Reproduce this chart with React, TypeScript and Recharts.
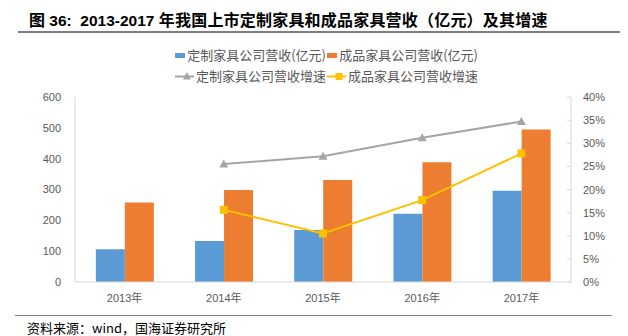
import React from 'react';
import { ComposedChart, Bar, Line, XAxis, YAxis } from 'recharts';

const years = ['2013年', '2014年', '2015年', '2016年', '2017年'];
const customRevenue = [106, 133, 169, 221, 296];
const finishedRevenue = [258, 298, 331, 388, 495];
const customGrowth = [null, 25.5, 27.2, 31.2, 34.7];
const finishedGrowth = [null, 15.6, 10.5, 17.7, 27.8];
const leftTicks = [0, 100, 200, 300, 400, 500, 600];
const rightTicks = [0, 5, 10, 15, 20, 25, 30, 35, 40];

const data = years.map((y, i) => ({
  year: y,
  custom: customRevenue[i],
  finished: finishedRevenue[i],
  customG: customGrowth[i],
  finishedG: finishedGrowth[i],
}));

const BLUE = '#5B9BD5';
const ORANGE = '#ED7D31';
const GRAY = '#A5A5A5';
const YELLOW = '#FFC000';
const TXT = '#595959';
const AXIS = '#D9D9D9';
const TICKFONT = '"Liberation Sans", "Noto Sans CJK SC", sans-serif';
const CJK = '"Noto Sans CJK SC", "Liberation Sans", sans-serif';

const Triangle = (p: any) => {
  if (p.value == null || p.cy == null) return null;
  const { cx, cy } = p;
  return <path d={`M${cx},${cy - 4.5} L${cx + 4.5},${cy + 3.5} L${cx - 4.5},${cy + 3.5} Z`} fill={GRAY} />;
};
const Square = (p: any) => {
  if (p.value == null || p.cy == null) return null;
  const { cx, cy } = p;
  return <rect x={cx - 4} y={cy - 4} width={8} height={8} fill={YELLOW} />;
};

const RightTick = (p: any) => {
  const { x, y, payload } = p;
  return (
    <g>
      <line x1={x - 16} x2={x - 12} y1={y} y2={y} stroke={AXIS} />
      <text x={x} y={y} dy={4} textAnchor="start" fontSize={11} fill={TXT} fontFamily={TICKFONT}>
        {payload.value}%
      </text>
    </g>
  );
};

const LegendItem = ({ kind, color, label }: { kind: string; color: string; label: string }) => (
  <div style={{ display: 'flex', alignItems: 'center', width: 152 }}>
    <svg width={26} height={12} style={{ marginRight: 2 }}>
      {kind === 'bar' && <rect x={1} y={4} width={24} height={5} fill={color} />}
      {kind === 'tri' && (
        <g>
          <line x1={1} x2={25} y1={6.5} y2={6.5} stroke={color} strokeWidth={2} />
          <path d="M13,2 L17,9.5 L9,9.5 Z" fill={color} />
        </g>
      )}
      {kind === 'sq' && (
        <g>
          <line x1={1} x2={25} y1={6.5} y2={6.5} stroke={color} strokeWidth={2} />
          <rect x={9.5} y={3} width={7} height={7} fill={color} />
        </g>
      )}
    </svg>
    <span style={{ fontSize: 13, color: TXT, fontFamily: CJK, whiteSpace: 'nowrap' }}>{label}</span>
  </div>
);

export default function App() {
  return (
    <div style={{ position: 'absolute', left: 0, top: 0, width: 628, height: 336, background: '#fff', overflow: 'hidden' }}>
      <div
        style={{
          position: 'absolute', left: 29, top: 7, fontWeight: 'bold',
          fontFamily: '"Liberation Sans", "Noto Sans CJK SC", sans-serif', color: '#000', whiteSpace: 'pre',
          display: 'flex', alignItems: 'baseline',
        }}
      >
        <span style={{ fontSize: 16, fontFamily: CJK }}>图</span>
        <span style={{ fontSize: 15.5 }}>{' 36:  2013-2017 '}</span>
        <span style={{ fontSize: 16, fontFamily: CJK, letterSpacing: 0.2 }}>年我国上市定制家具和成品家具营收（亿元）及其增速</span>
      </div>
      <div style={{ position: 'absolute', left: 18, top: 31, width: 602, height: 2, background: '#7F7F7F' }} />
      <div style={{ position: 'absolute', left: 174, top: 44 }}>
        <div style={{ display: 'flex', height: 21 }}>
          <LegendItem kind="bar" color={BLUE} label="定制家具公司营收(亿元)" />
          <LegendItem kind="bar" color={ORANGE} label="成品家具公司营收(亿元)" />
        </div>
        <div style={{ display: 'flex', height: 21 }}>
          <LegendItem kind="tri" color={GRAY} label="定制家具公司营收增速" />
          <LegendItem kind="sq" color={YELLOW} label="成品家具公司营收增速" />
        </div>
      </div>
      <div style={{ position: 'absolute', left: 0, top: 0 }}>
        <ComposedChart
          width={628}
          height={336}
          data={data}
          margin={{ top: 97, right: 7, bottom: 29, left: 15 }}
          barCategoryGap="21%"
          barGap={0}
        >
          <XAxis
            dataKey="year"
            stroke={AXIS}
            tickLine={false}
            tick={{ fontSize: 11, fill: TXT, fontFamily: TICKFONT }}
            tickMargin={6}
            height={25}
          />
          <YAxis
            yAxisId="left"
            domain={[0, 600]}
            ticks={leftTicks}
            stroke={AXIS}
            tickLine={false}
            tickSize={0}
            tickMargin={14}
            width={60}
            tick={{ fontSize: 11, fill: TXT, fontFamily: TICKFONT }}
          />
          <YAxis
            yAxisId="right"
            orientation="right"
            domain={[0, 40]}
            ticks={rightTicks}
            stroke={AXIS}
            tickLine={false}
            tickSize={0}
            tickMargin={12}
            width={50}
            tick={<RightTick />}
          />
          <Bar yAxisId="left" dataKey="custom" fill={BLUE} isAnimationActive={false} />
          <Bar yAxisId="left" dataKey="finished" fill={ORANGE} isAnimationActive={false} />
          <Line
            yAxisId="right"
            dataKey="customG"
            stroke={GRAY}
            strokeWidth={2}
            dot={<Triangle />}
            activeDot={false}
            isAnimationActive={false}
          />
          <Line
            yAxisId="right"
            dataKey="finishedG"
            stroke={YELLOW}
            strokeWidth={2}
            dot={<Square />}
            activeDot={false}
            isAnimationActive={false}
          />
        </ComposedChart>
      </div>
      <div style={{ position: 'absolute', left: 15, top: 315, width: 597, height: 1, background: '#7F7F7F' }} />
      <div
        style={{
          position: 'absolute', left: 27, top: 318, fontSize: 13, color: '#000',
          fontFamily: CJK, whiteSpace: 'nowrap',
        }}
      >
        资料来源：wind，国海证券研究所
      </div>
    </div>
  );
}
